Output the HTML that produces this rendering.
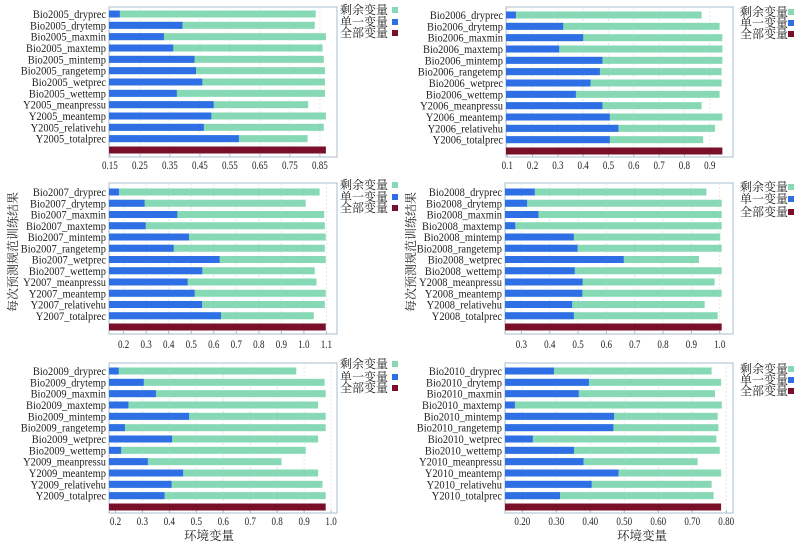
<!DOCTYPE html>
<html><head><meta charset="utf-8"><style>
html,body{margin:0;padding:0;background:#fff;}
svg{display:block;}
text{font-family:"Liberation Serif","Noto Serif CJK SC","Noto Sans CJK SC",serif;fill:#222;}
</style></head><body>
<svg id="chart" width="800" height="547" viewBox="0 0 800 547" xmlns="http://www.w3.org/2000/svg"></svg>
<script>
const suffixes = ["dryprec","drytemp","maxmin","maxtemp","mintemp","rangetemp","wetprec","wettemp","meanpressu","meantemp","relativehu","totalprec"];
const years = ["2005","2006","2007","2008","2009","2010"];
const single2005 = [0.183,0.392,0.33,0.361,0.432,0.437,0.458,0.373,0.496,0.488,0.463,0.58];
const rest2005   = [0.836,0.833,0.87,0.859,0.863,0.867,0.867,0.867,0.811,0.87,0.863,0.809];
const all2005 = 0.87;
const single2006 = [0.134,0.321,0.4,0.305,0.476,0.466,0.429,0.371,0.476,0.505,0.539,0.505];
const rest2006   = [0.868,0.939,0.95,0.95,0.95,0.947,0.947,0.939,0.868,0.95,0.921,0.874];
const all2006 = 0.95;
const single2007 = [0.179,0.293,0.438,0.298,0.49,0.422,0.626,0.549,0.484,0.515,0.548,0.632];
const rest2007   = [1.07,1.008,1.09,1.093,1.097,1.093,1.097,1.048,1.056,1.097,1.093,1.044];
const all2007 = 1.097;
const single2008 = [0.347,0.32,0.36,0.278,0.485,0.498,0.661,0.488,0.516,0.515,0.479,0.485];
const rest2008   = [0.953,1.007,1.007,1.007,1.002,1.007,0.927,1.007,0.982,1.007,0.947,0.993];
const all2008 = 1.007;
const single2009 = [0.212,0.305,0.35,0.248,0.473,0.235,0.41,0.221,0.32,0.451,0.408,0.382];
const rest2009   = [0.871,0.976,0.98,0.952,0.98,0.98,0.952,0.906,0.816,0.952,0.968,0.98];
const all2009 = 0.98;
const single2010 = [0.293,0.396,0.366,0.178,0.47,0.468,0.231,0.352,0.38,0.483,0.404,0.311];
const rest2010   = [0.757,0.785,0.767,0.787,0.775,0.777,0.771,0.781,0.716,0.785,0.757,0.763];
const all2010 = 0.785;
const ticks2005 = ["0.15","0.25","0.35","0.45","0.55","0.65","0.75","0.85"];
const ticks2006 = ["0.1","0.2","0.3","0.4","0.5","0.6","0.7","0.8","0.9"];
const ticks2007 = ["0.2","0.3","0.4","0.5","0.6","0.7","0.8","0.9","1.0","1.1"];
const ticks2008 = ["0.3","0.4","0.5","0.6","0.7","0.8","0.9","1.0"];
const ticks2009 = ["0.2","0.3","0.4","0.5","0.6","0.7","0.8","0.9","1.0"];
const ticks2010 = ["0.20","0.30","0.40","0.50","0.60","0.70","0.80"];
const legendLabels = ["剩余变量","单一变量","全部变量"];

const singles=[single2005,single2006,single2007,single2008,single2009,single2010];
const rests=[rest2005,rest2006,rest2007,rest2008,rest2009,rest2010];
const alls=[all2005,all2006,all2007,all2008,all2009,all2010];
const tickSets=[ticks2005,ticks2006,ticks2007,ticks2008,ticks2009,ticks2010];
const layouts=[
 {l:109,r:337,t:7,b:157,d0:0.147,d1:0.907,b0:14,b1:150,ty:169,lx:340,ly:[10,22,33],sx:392},
 {l:506,r:733,t:7,b:157,d0:0.095,d1:0.992,b0:15,b1:151,ty:169,lx:740,ly:[12,23,34],sx:788},
 {l:109,r:337,t:183,b:334,d0:0.135,d1:1.147,b0:192,b1:327,ty:348,lx:340,ly:[185,197,208],sx:392},
 {l:505,r:733,t:183,b:334,d0:0.242,d1:1.047,b0:192,b1:327,ty:348,lx:740,ly:[187,199,212],sx:788},
 {l:109,r:337,t:363,b:513,d0:0.176,d1:1.022,b0:371,b1:507,ty:525,lx:340,ly:[364,377,388],sx:392},
 {l:505,r:733,t:363,b:513,d0:0.149,d1:0.82,b0:371,b1:507,ty:525,lx:740,ly:[369,380,391],sx:788}
];
const NS="http://www.w3.org/2000/svg";
const svg=document.getElementById('chart');
function mk(tag,attrs,parent){const e=document.createElementNS(NS,tag);for(const k in attrs)e.setAttribute(k,attrs[k]);(parent||svg).appendChild(e);return e;}
function squeeze(t,f){const w=t.getComputedTextLength();if(w>0){t.setAttribute('textLength',(w*f).toFixed(1));t.setAttribute('lengthAdjust','spacingAndGlyphs');}}
const colRest="#86d9b4",colSingle="#2e6fe6",colAll="#7a0f2a";

years.forEach((yr,p)=>{
 const L=layouts[p];
 const g=mk('g',{});
 
 
 const x=v=>L.l+(v-L.d0)/(L.d1-L.d0)*(L.r-L.l);
 const n=suffixes.length+1;
 const y=i=>L.b0+i*(L.b1-L.b0)/(n-1);
 const frame=mk('rect',{x:L.l,y:L.t,width:L.r-L.l,height:L.b-L.t,fill:'#fff',stroke:'#a9bccd','stroke-width':1},g);
 
 
 tickSets[p].forEach(t=>{
  const v=parseFloat(t),xx=x(v);
  const gl=mk('line',{x1:xx,x2:xx,y1:L.t,y2:L.b,stroke:'#e2e6ea','stroke-width':1,'stroke-dasharray':'2,2'},g);
  
  
  mk('line',{x1:xx,x2:xx,y1:L.b,y2:L.b-3,stroke:'#a9bccd'},g);
  const tl=mk('text',{x:xx,y:L.ty,'text-anchor':'middle','font-size':12},g);
  tl.textContent=t;
  
  
  squeeze(tl,0.75);
 });
 const bh=7;
 suffixes.forEach((s,i)=>{
  const cy=y(i);
  const name=(i<8?'Bio':'Y')+yr+'_'+s;
  const lab=mk('text',{x:L.l-3,y:cy+4,'text-anchor':'end','font-size':12},g);
  lab.textContent=name;
  
  
  squeeze(lab,0.87);
  const br=mk('rect',{x:L.l,y:cy-bh/2,width:x(rests[p][i])-L.l,height:bh,fill:colRest},g);
  
  
  const bs=mk('rect',{x:L.l,y:cy-bh/2,width:x(singles[p][i])-L.l,height:bh,fill:colSingle},g);
  
  
 });
 const cy=y(n-1);
 const ba=mk('rect',{x:L.l,y:cy-bh/2,width:x(alls[p])-L.l,height:bh,fill:colAll},g);
 
 
 const cols=[colRest,colSingle,colAll];
 legendLabels.forEach((lb,k)=>{
  const lt=mk('text',{x:L.lx,y:L.ly[k]+4,'font-size':12},g);
  lt.textContent=lb;
  
  
  const sq=mk('rect',{x:L.sx,y:L.ly[k]-3,width:6,height:6,fill:cols[k]},g);
  
  
 });
});
[[14,252],[412,252]].forEach(([xx,yy])=>{
 const t=mk('text',{x:xx,y:yy,'text-anchor':'middle','font-size':12,transform:'rotate(-90 '+xx+' '+yy+')','dominant-baseline':'middle'});
 t.textContent='每次预测规范训练结果';
 
 
});
[[209,540],[642,540]].forEach(([xx,yy])=>{
 const t=mk('text',{x:xx,y:yy,'text-anchor':'middle','font-size':12.5});
 t.textContent='环境变量';
 
 
});
</script>
</body></html>
